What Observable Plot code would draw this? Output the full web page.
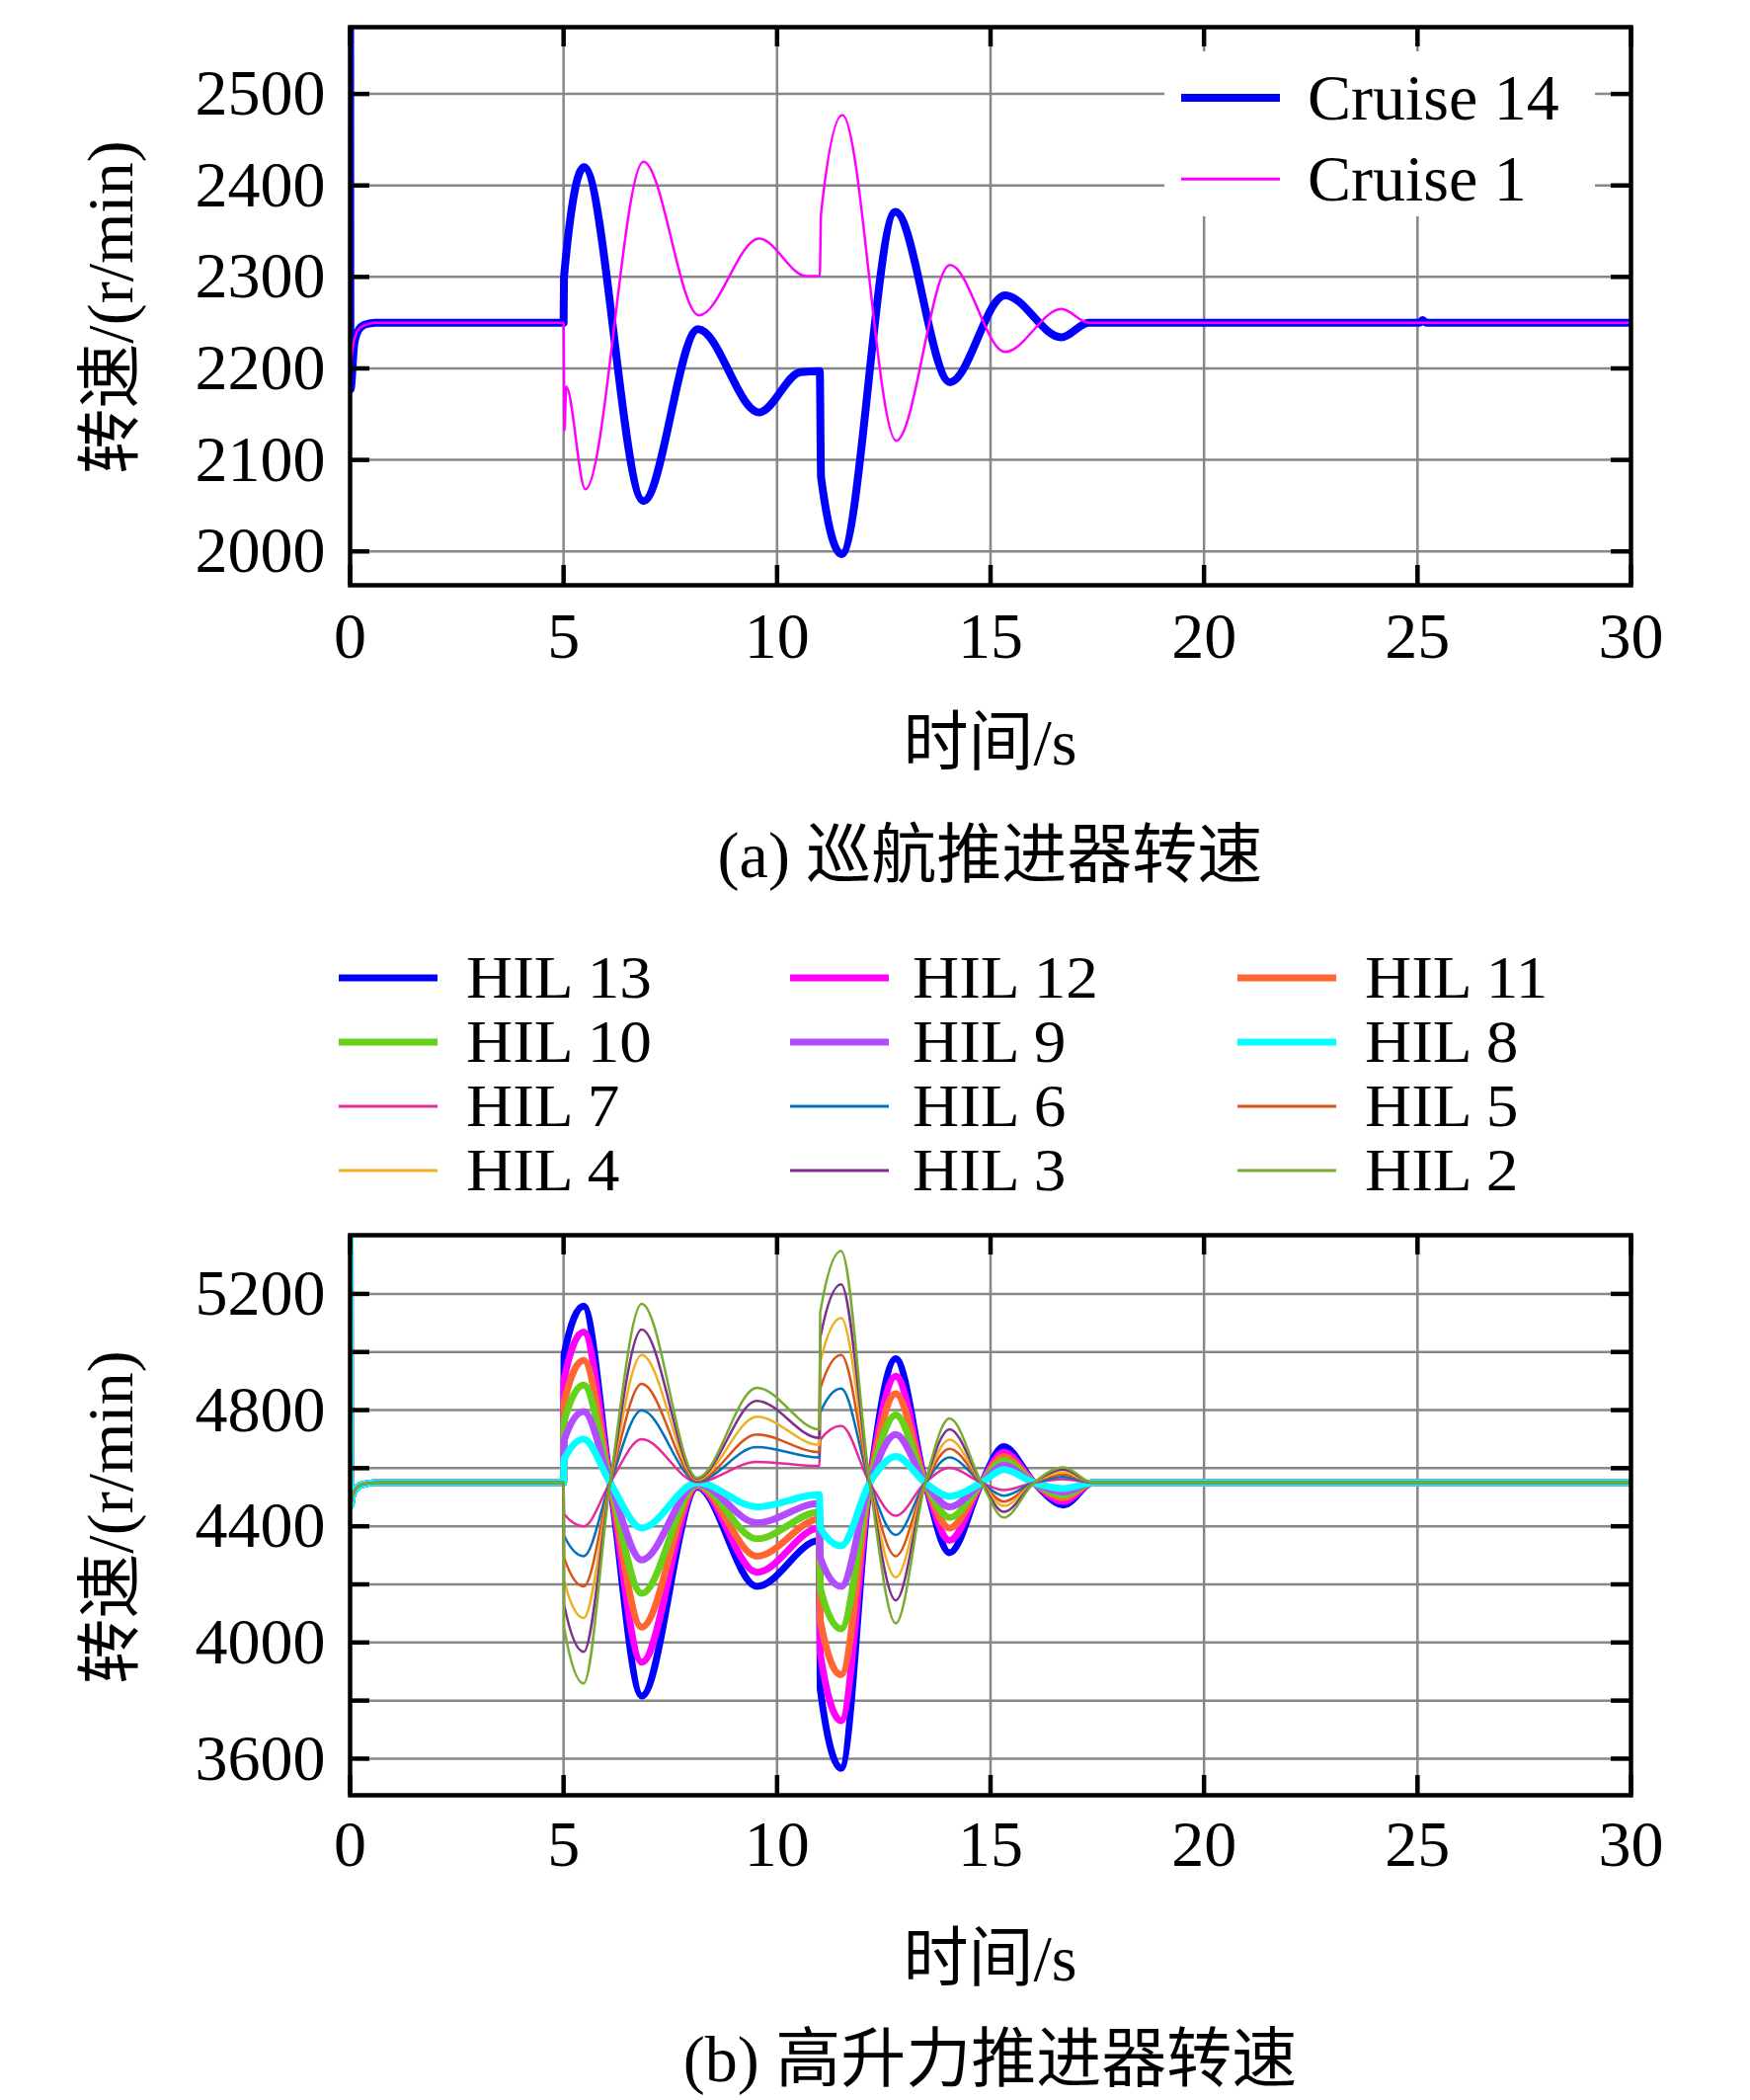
<!DOCTYPE html>
<html>
<head>
<meta charset="utf-8">
<script src="https://cdn.jsdelivr.net/npm/d3@7"></script>
<script src="https://cdn.jsdelivr.net/npm/@observablehq/plot@0.6"></script>
<style>
  html, body { margin: 0; padding: 0; background: #fff; }
  #page { position: relative; width: 1772px; height: 2126px; background: #fff; overflow: hidden;
          font-family: "Liberation Serif", "Times New Roman", "Noto Sans CJK SC", serif; color: #000; }
  .abs { position: absolute; }
  .txt { position: absolute; white-space: nowrap; font-size: 66px; line-height: 1; }
  .ctr { transform: translate(-50%, -50%); }
  .ytitle { transform: translate(-50%, -50%) rotate(-90deg); }
  .lg { position: absolute; white-space: nowrap; font-size: 61px; line-height: 0.8; transform-origin: 0 50%; transform: translateY(-50%) scaleX(1.07); }
  .sw { position: absolute; transform: translateY(-50%); }
</style>
</head>
<body>
<div id="page">
  <div id="plotA" class="abs" style="left:0;top:0"></div>
  <div id="plotB" class="abs" style="left:0;top:1200px"></div>
</div>
<script>
// ---------- data ----------
const xTicks = [0, 5, 10, 15, 20, 25, 30];
const yTicksA = [2000, 2100, 2200, 2300, 2400, 2500];
const yGridB = [3600, 3800, 4000, 4200, 4400, 4600, 4800, 5000, 5200];
const yLabelsB = [3600, 4000, 4400, 4800, 5200];

// (a) cruise propellers: [time s, speed r/min]
const cruise14 = [[0,2600],[0.01,2177],[0.1,2228],[0.2,2242],[0.35,2248],[0.6,2250],[5,2250],[5.01,2300],[5.48,2420],
  [6.87,2055],[8.15,2243],[9.58,2152],[10.55,2196],[11.0,2197],[11.03,2081],[11.51,1997],[12.77,2371],[14.05,2185],
  [15.34,2280],[16.66,2234],[17.3,2250],[25.05,2250],[25.12,2253],[25.2,2250],[30,2250]];
const cruise1 = [[0,2200],[0.1,2232],[0.25,2245],[0.6,2250],[5,2250],[5.02,2132],[5.06,2180],[5.51,2068],[6.87,2426],
  [8.17,2258],[9.58,2342],[10.68,2301],[11.0,2301],[11.03,2369],[11.53,2477],[12.79,2121],[14.05,2313],[15.34,2218],
  [16.66,2265],[17.3,2250],[30,2250]];

// (b) high-lift propellers
const hilTimes = [0, 0.01, 0.06, 0.25, 0.6, 5.0, 5.01, 5.47, 6.09, 6.83, 8.13, 9.53, 10.99, 11.01, 11.5, 12.17, 12.78, 13.47, 14.04, 14.79, 15.31, 16.02, 16.71, 17.4, 30];
const hil13 = [5450,4470,4508,4542,4550,4550,4990,5158,4550,3816,4535,4193,4351,3841,3567,4550,4977,4550,4309,4550,4674,4550,4473,4550,4550];
const hil12 = [5450,4470,4508,4542,4550,4550,4905,5069,4550,3932,4538,4242,4394,3963,3731,4550,4917,4550,4351,4550,4655,4550,4485,4550,4550];
const hil11 = [5450,4470,4508,4542,4550,4550,4825,4971,4550,4053,4541,4297,4424,4076,3889,4550,4856,4550,4394,4550,4640,4550,4497,4550,4550];
const hil10 = [5450,4470,4508,4542,4550,4550,4760,4886,4550,4169,4544,4357,4449,4188,4047,4550,4783,4550,4430,4550,4625,4550,4508,4550,4550];
const hil9  = [5450,4470,4508,4542,4550,4550,4695,4795,4550,4284,4547,4412,4479,4293,4193,4550,4716,4550,4467,4550,4610,4550,4518,4550,4550];
const hil8  = [5450,4470,4508,4542,4550,4550,4630,4700,4550,4394,4550,4467,4509,4395,4333,4550,4640,4550,4503,4550,4595,4550,4530,4550,4550];
const hil7  = [5450,4470,4508,4542,4550,4550,4442,4400,4550,4700,4552,4622,4607,4697,4746,4550,4436,4550,4601,4550,4525,4550,4562,4550,4550];
const hil6  = [5450,4470,4508,4542,4550,4550,4368,4297,4550,4799,4555,4673,4637,4791,4874,4550,4370,4550,4637,4550,4505,4550,4570,4550,4550];
const hil5  = [5450,4470,4508,4542,4550,4550,4293,4193,4550,4890,4558,4716,4655,4873,4990,4550,4297,4550,4667,4550,4485,4550,4578,4550,4550];
const hil4  = [5450,4470,4508,4542,4550,4550,4214,4084,4550,4990,4561,4777,4680,4964,5117,4550,4224,4550,4698,4550,4470,4550,4586,4550,4550];
const hil3  = [5450,4470,4508,4542,4550,4550,4131,3968,4550,5077,4564,4832,4704,5048,5233,4550,4145,4550,4734,4550,4450,4550,4595,4550,4550];
const hil2  = [5450,4470,4508,4542,4550,4550,4053,3859,4550,5166,4567,4877,4734,5135,5348,4550,4066,4550,4771,4550,4430,4550,4603,4550,4550];

const hilNames = ["HIL 13","HIL 12","HIL 11","HIL 10","HIL 9","HIL 8","HIL 7","HIL 6","HIL 5","HIL 4","HIL 3","HIL 2"];
const hilValues = [hil13, hil12, hil11, hil10, hil9, hil8, hil7, hil6, hil5, hil4, hil3, hil2];
const hilColors = ["#0000ff","#ff00ff","#ff6633","#66d11a","#b34cff","#00ffff","#e8289b","#0072bd","#d95319","#edb120","#7e2f8e","#77ac30"];
const hilWidths = [7,7,7,7,7,7,2.5,2.5,2.5,2.5,2.5,2.5];

// ---------- layout ----------
const W = 1772;
const mL = 354, mR = 121;
const innerW = W - mL - mR;
const FONT = "'Liberation Serif', 'Times New Roman', serif";
const TICKFS = 66;
const gridStyle = {stroke: "#878787", strokeOpacity: 1, strokeWidth: 2.5};
const fmt = d3.format("d");

function frameMarks(yTickVals, innerH) {
  return [
    Plot.frame({stroke: "black", strokeWidth: 4.5}),
    Plot.tickY(yTickVals, {y: d => d, stroke: "black", strokeWidth: 4.5, insetRight: innerW - 20}),
    Plot.tickY(yTickVals, {y: d => d, stroke: "black", strokeWidth: 4.5, insetLeft: innerW - 20}),
    Plot.tickX(xTicks, {x: d => d, stroke: "black", strokeWidth: 4.5, insetBottom: innerH - 20}),
    Plot.tickX(xTicks, {x: d => d, stroke: "black", strokeWidth: 4.5, insetTop: innerH - 20})
  ];
}

// ---------- plot (a) ----------
const hA = 700, mTA = 27, mBA = 108;
const innerHA = hA - mTA - mBA;
const toRows = (arr) => arr.map(([t, v]) => ({t, v}));
const plotA = Plot.plot({
  width: W, height: hA,
  marginLeft: mL, marginRight: mR, marginTop: mTA, marginBottom: mBA,
  style: {fontFamily: FONT, fontSize: TICKFS + "px", background: "white", color: "black"},
  x: {domain: [0, 30], label: null},
  y: {domain: [1963, 2573], label: null},
  marks: [
    Plot.gridX(xTicks, gridStyle),
    Plot.gridY(yTicksA, gridStyle),
    Plot.line(toRows(cruise14), {x: "t", y: "v", stroke: "#0000ff", strokeWidth: 8, curve: "monotone-x", clip: true}),
    Plot.line(toRows(cruise1), {x: "t", y: "v", stroke: "#ff00ff", strokeWidth: 2.5, curve: "monotone-x", clip: true}),
    ...frameMarks(yTicksA, innerHA),
    Plot.axisY(yTicksA, {tickSize: 0, tickPadding: 25, fontSize: TICKFS, label: null, tickFormat: fmt}),
    Plot.axisX(xTicks, {tickSize: 0, tickPadding: 27, fontSize: TICKFS, label: null, tickFormat: fmt})
  ]
});
document.getElementById("plotA").appendChild(plotA);

// ---------- plot (b) ----------
const hB = 721, mTB = 50, mBB = 104;
const innerHB = hB - mTB - mBB;
const hilRows = [];
hilNames.forEach((name, k) => {
  hilTimes.forEach((t, i) => hilRows.push({series: name, t, v: hilValues[k][i]}));
});
const plotB = Plot.plot({
  width: W, height: hB,
  marginLeft: mL, marginRight: mR, marginTop: mTB, marginBottom: mBB,
  style: {fontFamily: FONT, fontSize: TICKFS + "px", background: "white", color: "black"},
  x: {domain: [0, 30], label: null},
  y: {domain: [3474, 5402], label: null},
  marks: [
    Plot.gridX(xTicks, gridStyle),
    Plot.gridY(yGridB, gridStyle),
    ...hilNames.map((name, k) => Plot.line(hilRows.filter(d => d.series === name),
      {x: "t", y: "v", stroke: hilColors[k], strokeWidth: hilWidths[k], curve: "monotone-x", clip: true})),
    ...frameMarks(yGridB, innerHB),
    Plot.axisY(yLabelsB, {tickSize: 0, tickPadding: 25, fontSize: TICKFS, label: null, tickFormat: fmt}),
    Plot.axisX(xTicks, {tickSize: 0, tickPadding: 25, fontSize: TICKFS, label: null, tickFormat: fmt})
  ]
});
document.getElementById("plotB").appendChild(plotB);

// ---------- texts & legends ----------
const page = document.getElementById("page");
function addText(html, x, y, cls) {
  const d = document.createElement("div");
  d.className = "txt " + cls;
  d.style.left = x + "px"; d.style.top = y + "px";
  d.innerHTML = html;
  page.appendChild(d);
  return d;
}
const cx = (mL + (W - mR)) / 2;
addText("转速/(r/min)", 112, 311, "ytitle");
addText("时间/s", cx, 752, "ctr");
addText("(a) 巡航推进器转速", cx, 866, "ctr");
addText("转速/(r/min)", 112, 1536, "ytitle");
addText("时间/s", cx, 1983, "ctr");
addText("(b) 高升力推进器转速", cx, 2085, "ctr");

// legend (a) inside plot
const box = document.createElement("div");
box.className = "abs";
Object.assign(box.style, {left: "1179px", top: "52px", width: "436px", height: "167px", background: "#fff"});
page.appendChild(box);
const cruiseNames = ["Cruise 14", "Cruise 1"];
const cruiseColors = ["#0000ff", "#ff00ff"];
const cruiseWidths = [8, 2.5];
const cruiseRowsY = [99, 181];
cruiseNames.forEach((n, i) => {
  const sw = document.createElement("div");
  sw.className = "sw";
  Object.assign(sw.style, {left: "1196px", top: cruiseRowsY[i] + "px", width: "100px", height: cruiseWidths[i] + "px", background: cruiseColors[i]});
  page.appendChild(sw);
  const t = document.createElement("div");
  t.className = "lg";
  Object.assign(t.style, {left: "1324px", top: cruiseRowsY[i] + "px", fontSize: "66px", transform: "translateY(-50%)"});
  t.textContent = n;
  page.appendChild(t);
});

// legend (b) above plot: 3 columns x 4 rows
const lgCols = [[343, 472], [800, 924], [1253, 1382]];
const lgRows = [990, 1055, 1120, 1185];
hilNames.forEach((n, k) => {
  const r = Math.floor(k / 3), c = k % 3;
  const sw = document.createElement("div");
  sw.className = "sw";
  Object.assign(sw.style, {left: lgCols[c][0] + "px", top: lgRows[r] + "px", width: "100px",
    height: (hilWidths[k] > 5 ? 7 : 3) + "px", background: hilColors[k]});
  page.appendChild(sw);
  const t = document.createElement("div");
  t.className = "lg";
  Object.assign(t.style, {left: lgCols[c][1] + "px", top: lgRows[r] + "px"});
  t.textContent = n;
  page.appendChild(t);
});
</script>
</body>
</html>
